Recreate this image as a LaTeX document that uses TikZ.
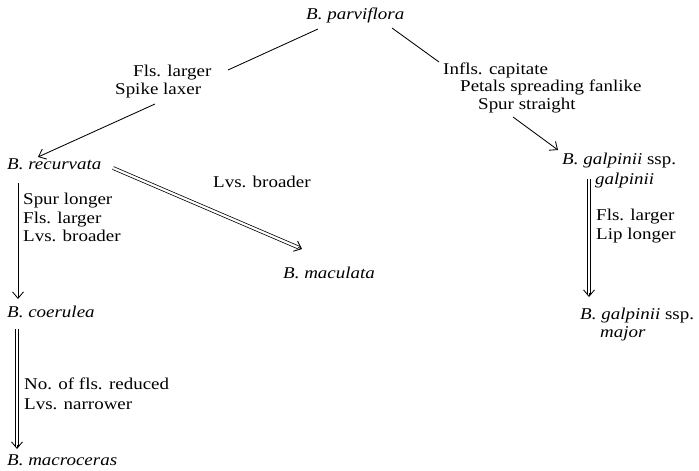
\documentclass[tikz,border=0pt]{standalone}
\usepackage{fontspec}
\setmainfont{Liberation Serif}[FakeStretch=1.15]
\usetikzlibrary{arrows.meta,calc}
\begin{document}
\begin{tikzpicture}[x=1pt,y=-1pt,
  lbl/.style={anchor=mid west, inner sep=0pt, font=\fontsize{16.5}{19}\selectfont},
  sp/.style={lbl, font=\fontsize{16.5}{19}\selectfont\itshape},
  ln/.style={line width=0.85pt},
  sarrow/.style={ln,-{Straight Barb[length=6.5pt,width=11pt]}},
  dbl/.style={line width=0.75pt, double, double distance=2.2pt},
]
\useasboundingbox (0,0) rectangle (699,471);
% species
\node[sp] (parv) at (306,17) {B. parviflora};
\node[sp] (recu) at (7,167) {B. recurvata};
\node[sp] (macu) at (283,276) {B. maculata};
\node[sp] (coer) at (7,315) {B. coerulea};
\node[sp] (macr) at (7,463) {B. macroceras};
\node[lbl] (galpa) at (562,162) {\textit{B. galpinii} ssp.};
\node[sp] (galpb) at (595,182) {galpinii};
\node[lbl] (majora) at (580,317) {\textit{B. galpinii} ssp.};
\node[sp] (majorb) at (600,335) {major};
% character labels
\node[lbl] (l1a) at (133,74) {Fls. larger};
\node[lbl] (l1b) at (115,92) {Spike laxer};
\node[lbl] (l2) at (213,185) {Lvs. broader};
\node[lbl] (l3a) at (23,202) {Spur longer};
\node[lbl] (l3b) at (23,221) {Fls. larger};
\node[lbl] (l3c) at (23,239) {Lvs. broader};
\node[lbl] (l4a) at (24,387) {No. of fls. reduced};
\node[lbl] (l4b) at (24,407) {Lvs. narrower};
\node[lbl] (l5a) at (443,72) {Infls. capitate};
\node[lbl] (l5b) at (460,89) {Petals spreading fanlike};
\node[lbl] (l5c) at (478,107) {Spur straight};
\node[lbl] (l6a) at (596,218) {Fls. larger};
\node[lbl] (l6b) at (596,237) {Lip longer};
% connector end points
\coordinate (a1s) at (318,29);
\coordinate (a1e) at (228,70);
\coordinate (a2s) at (155,104);
\coordinate (a2e) at (38,157);
\coordinate (a3s) at (392,28);
\coordinate (a3e) at (439,62);
\coordinate (a4s) at (513,117);
\coordinate (a4e) at (558,150);
\coordinate (v1s) at (18,183);
\coordinate (v1e) at (18,299);
\coordinate (d1s) at (113,168);
\coordinate (d1e) at (302,249);
\coordinate (d2s) at (17,329);
\coordinate (d2e) at (17,449);
\coordinate (d3s) at (589,179);
\coordinate (d3e) at (589,297);
% single connectors
\draw[ln] (a1s) -- (a1e);
\draw[sarrow] (a2s) -- (a2e);
\draw[ln] (a3s) -- (a3e);
\draw[sarrow] (a4s) -- (a4e);
\draw[sarrow] (v1s) -- (v1e);
% double connectors
\foreach \s/\e in {d1s/d1e, d2s/d2e, d3s/d3e}{
  \draw[dbl] (\s) -- ($(\e)!2pt!(\s)$);
  \draw[sarrow] ($(\e)!4pt!(\s)$) -- (\e);
}
\end{tikzpicture}
\end{document}
